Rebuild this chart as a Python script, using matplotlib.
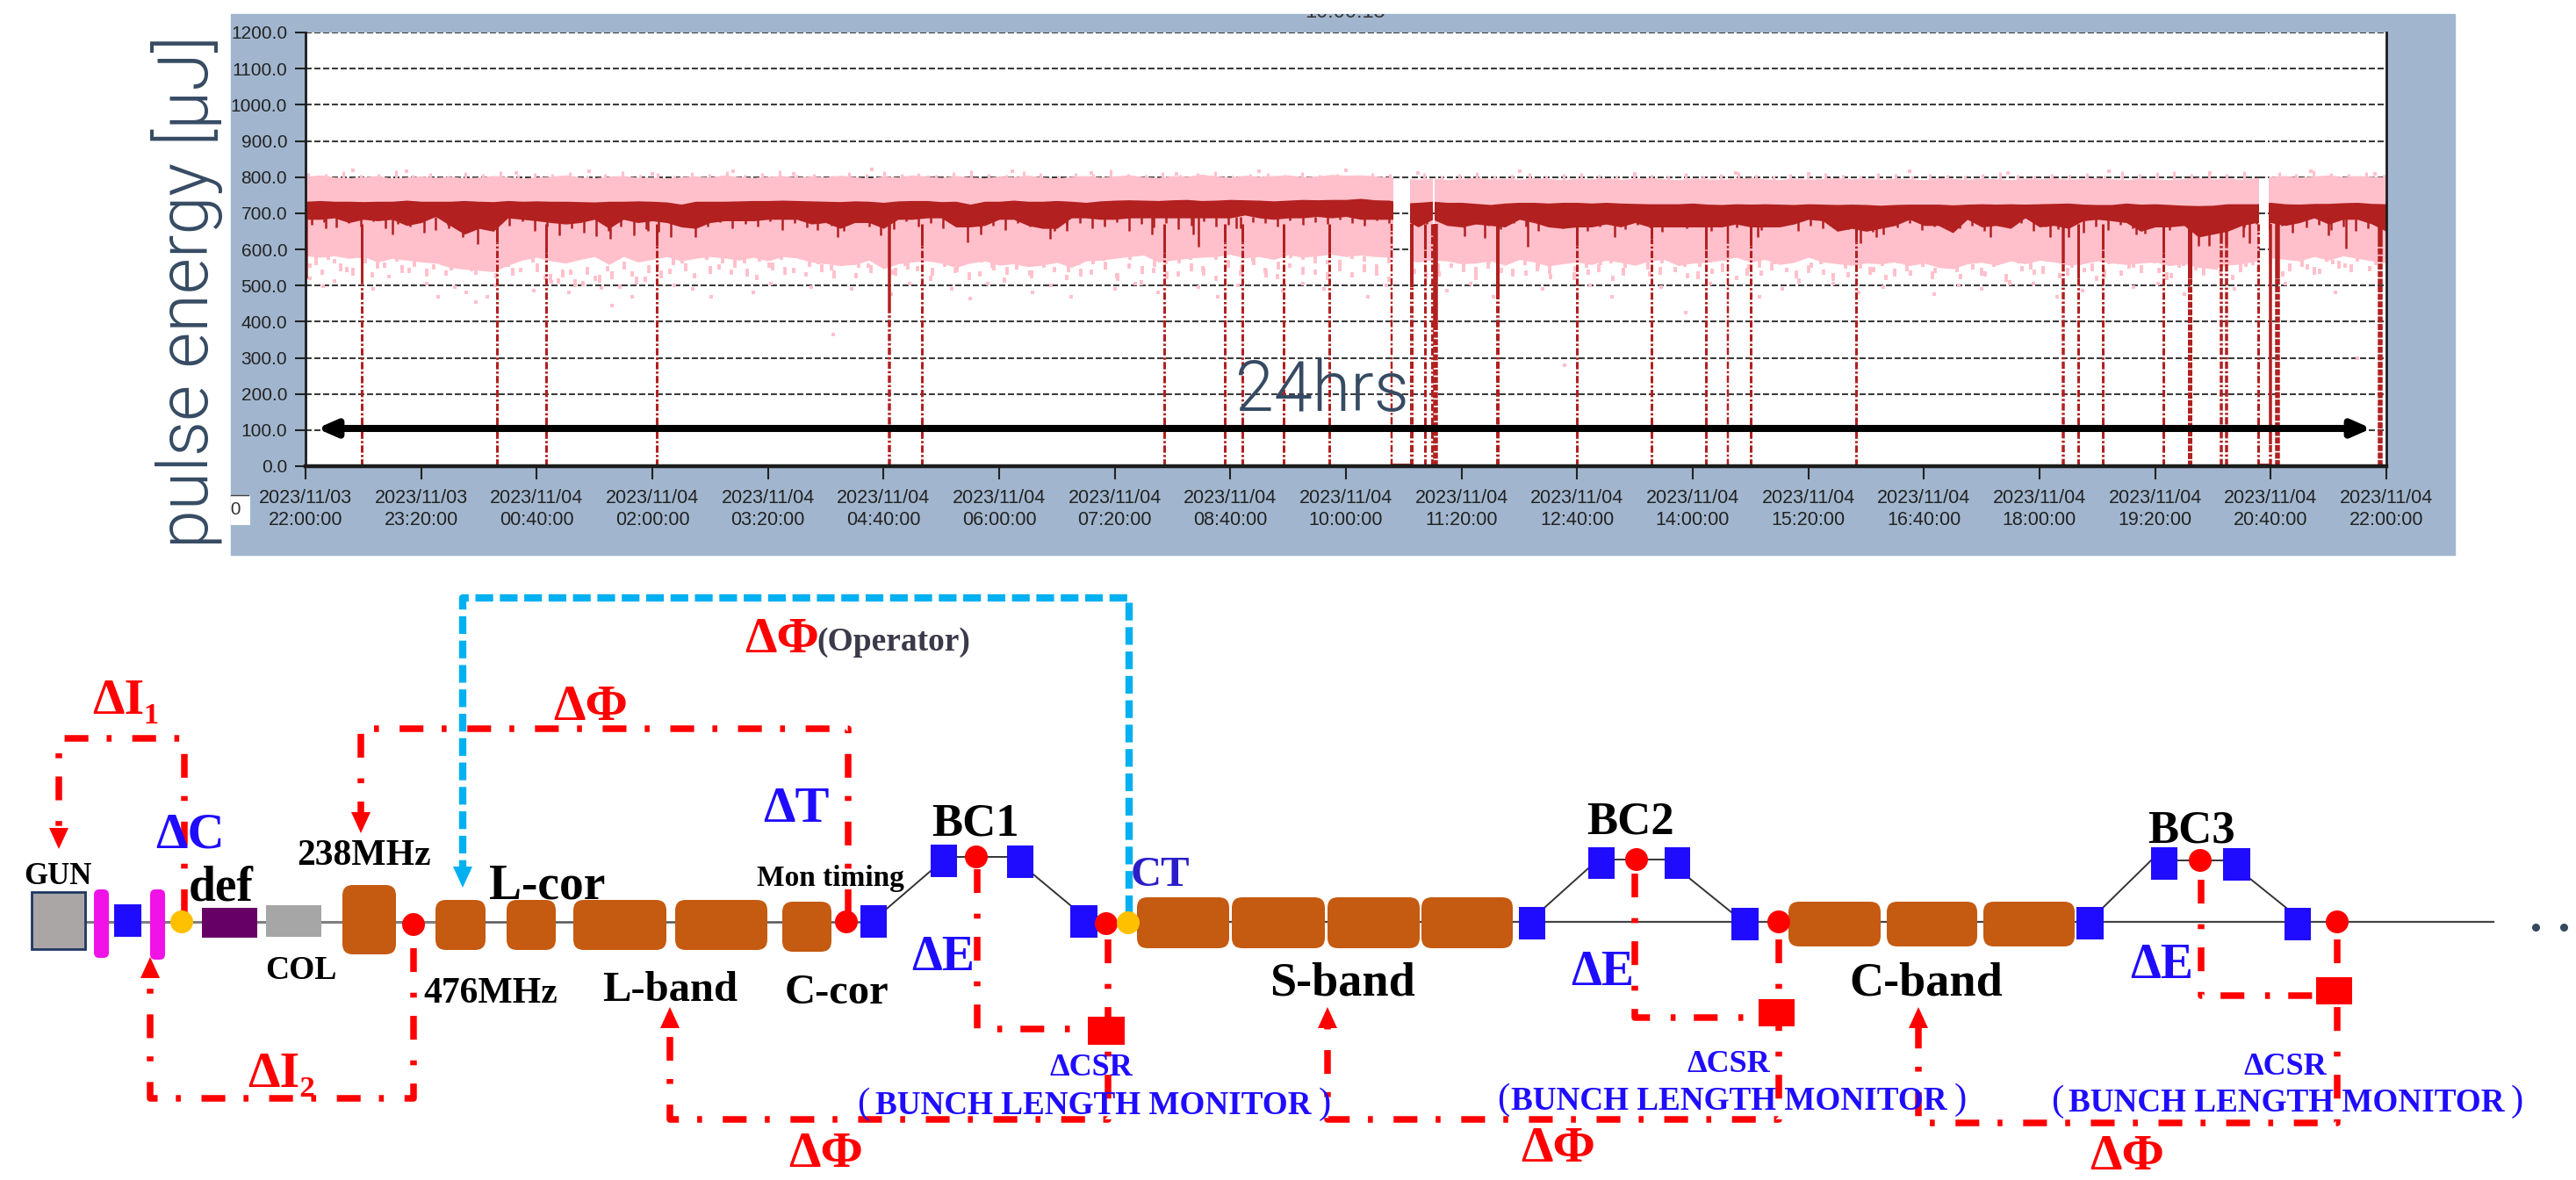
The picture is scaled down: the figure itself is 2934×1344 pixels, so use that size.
"""Pulse energy trend over 24 hours and the accelerator feedback layout."""

import numpy as np
import matplotlib.pyplot as plt
from matplotlib.patches import Rectangle, FancyBboxPatch, Circle, Polygon

plt.rcParams['lines.scale_dashes'] = False

W, H = 2934, 1344

# trend values, one per 10 minutes from 22:00, in uJ
dark_top = [733, 735, 733, 733, 732, 733, 733, 736, 733, 733,
            733, 735, 733, 732, 735, 733, 734, 733, 733, 732,
            731, 733, 733, 734, 733, 731, 725, 733, 733, 733,
            734, 735, 735, 736, 735, 734,
            733, 732, 734, 733, 730, 734, 735, 735, 732, 733,
            725, 733, 733, 736, 733, 733, 735, 733, 730, 734,
            736, 737, 736, 735, 737, 738, 735, 736, 738, 737,
            736, 734, 736, 738, 737, 738, 738,
            741, 737, 736, 728, 730, 733, 730, 730, 727, 724,
            728, 730, 730, 728, 730, 730, 728, 730, 728, 727,
            726, 726, 726, 728, 725, 724, 726, 725, 726, 725,
            724, 726, 725, 724, 725, 724,
            722, 724, 725, 725, 725, 723, 725, 726, 725, 726,
            725, 726, 727, 728, 725, 724, 724, 728, 725, 726,
            724, 722, 721, 722, 726, 726, 726, 730, 726, 725,
            727, 727, 729, 730, 727, 726]
dark_low = [683, 683, 687, 674, 683, 679, 683, 666, 674, 691,
            666, 642, 658, 650, 687, 683, 679, 674, 670, 674,
            683, 658, 683, 674, 679, 674, 662, 658, 674, 679,
            679, 679, 683, 683, 683, 670,
            674, 658, 674, 674, 658, 683, 683, 687, 687, 662,
            662, 666, 683, 683, 666, 658, 658, 687, 687, 683,
            683, 687, 687, 687, 687, 687, 687, 687, 687, 695,
            687, 683, 687, 687, 691, 687, 691,
            683, 683, 683, 683, 662, 683, 666, 662, 670, 666,
            662, 683, 674, 662, 658, 662, 662, 670, 662, 674,
            662, 662, 662, 662, 662, 662, 670, 662, 662, 662,
            670, 683, 679, 650, 658, 650,
            658, 666, 683, 666, 666, 646, 683, 662, 666, 658,
            687, 662, 666, 658, 679, 683, 679, 674, 650, 662,
            662, 666, 634, 642, 650, 666, 674, 674, 666, 674,
            687, 670, 683, 683, 670, 650]
pink_top = [802, 806, 800, 798, 801, 804, 797, 800, 803, 799,
            802, 798, 800, 804, 801, 797, 800, 802, 806, 800,
            798, 802, 804, 799, 800, 797, 801, 803, 800, 806,
            801, 799, 802, 804, 800, 803,
            800, 805, 801, 797, 803, 800, 806, 802, 799, 804,
            800, 798, 803, 801, 805, 800, 797, 802, 804, 800,
            803, 806, 801, 799, 804, 802, 808, 803, 800, 805,
            802, 804, 806, 801, 803, 807, 805,
            806, 803, 800, 797, 794, 797, 793, 796, 799, 795,
            797, 794, 798, 796, 793, 797, 795, 798, 794, 796,
            799, 795, 793, 797, 795, 794, 797, 799, 795, 793,
            797, 794, 796, 798, 795, 797,
            794, 797, 795, 793, 798, 796, 794, 797, 795, 793,
            797, 795, 798, 794, 796, 799, 795, 793, 797, 795,
            793, 796, 799, 795, 797, 794, 798, 802, 804, 800,
            803, 806, 801, 804, 802, 800]
pink_low = [582, 578, 582, 575, 580, 565, 575, 570, 565, 562,
            550, 545, 542, 538, 556, 570, 578, 568, 562, 572,
            580, 558, 580, 565, 572, 580, 568, 575, 580, 576,
            570, 578, 568, 580, 576, 565,
            560, 555, 558, 570, 546, 560, 565, 568, 562, 550,
            562, 568, 556, 560, 552, 556, 564, 550, 568, 570,
            575, 580, 584, 565, 570, 575, 578, 580, 586, 576,
            580, 572, 585, 578, 582, 586, 580,
            584, 580, 578, 570, 565, 570, 568, 560, 562, 568,
            556, 572, 565, 554, 560, 565, 558, 570, 564, 556,
            568, 572, 555, 562, 564, 570, 578, 565, 572, 558,
            564, 578, 565, 560, 556, 562,
            560, 565, 555, 562, 550, 546, 560, 564, 556, 568,
            560, 570, 565, 556, 560, 568, 562, 558, 562, 565,
            555, 560, 550, 546, 556, 560, 568, 576, 572, 568,
            580, 570, 582, 575, 568, 562]

# short dips along the lower edge of the dark trace, equally spaced
dark_fringe = [668, 676, 660, 672, 664, 678, 658, 670, 662, 676, 654, 668,
               672, 660, 674, 656, 666, 678, 650, 664, 640, 658, 646, 636,
               652, 662, 640, 656, 648, 634, 668, 674, 662, 676, 658, 670,
               664, 678, 654, 672, 660, 674, 666, 650, 676, 662, 668, 656,
               678, 664, 672, 658, 670, 676, 660, 666, 654, 674, 662, 678,
               650, 668, 672, 658, 664, 676, 652, 670, 660, 674, 656, 666,
               678, 662, 668, 658, 676, 672, 664, 680, 668, 676, 670, 682,
               674, 666, 680, 672, 664, 678, 670, 682, 668, 660, 676, 666,
               656, 672, 662, 652, 668, 658, 674, 650, 664, 672, 656, 668,
               660, 648, 670, 658, 664, 652, 672, 660, 668, 654, 662, 672,
               650, 666, 658, 670, 656, 664, 648, 668, 660, 672, 654, 662,
               670, 658, 666, 652, 668, 660, 674, 650, 664, 656, 668, 646,
               662, 654, 668, 658, 644, 662, 654, 668, 650, 664, 658, 672,
               660, 670, 656, 666, 674, 660, 668, 654, 664, 650, 658, 646]

# deep single-shot dips of the dark trace (minute, lowest value)
dip_minutes = [14, 60, 82, 99, 109, 119, 211, 237, 270, 354, 368, 398, 458,
               467, 515, 527, 586, 614, 618, 644, 802, 816, 846, 906, 1005,
               1076, 1087, 1092, 1166, 1207, 1220, 1267, 1310, 1317, 1341,
               1345, 1375, 1400, 1412]
dip_values = [658, 642, 646, 658, 634, 614, 630, 650, 634, 654, 634, 638, 619,
              642, 630, 650, 642, 642, 607, 658, 636, 632, 607, 634, 634,
              616, 634, 642, 634, 634, 634, 642, 610, 610, 634,
              616, 646, 638, 603]

# beam dropouts: minute, value the trace stays solid down to, line width in px
drop_minutes = [39, 132.5, 166.5, 243, 404, 426.5, 594, 636, 648, 677, 708.5,
                751.6, 765.6, 774.7, 779.6, 781.7, 825, 880, 931.5, 969, 984,
                1000, 1073, 1216.4, 1226.5, 1243.7, 1285.7, 1303.6, 1325.8,
                1329.5, 1351.4, 1359.5, 1364.8, 1435.8]
drop_solid = [505, 620, 590, 610, 440, 610, 590, 620, 620, 590, 590,
              650, 495, 600, 640, 390, 480, 610, 630, 600, 620,
              610, 620, 560, 520, 600, 590, 520, 620,
              610, 650, 60, 520, 610]
drop_width = [3, 3, 3, 3, 3.5, 3, 3, 3, 3, 3, 3,
              2.5, 4, 3, 3, 5.5, 4, 3, 3, 3, 2.5,
              3, 3, 3.5, 3, 3, 3, 5, 3.5,
              3.5, 3, 3.5, 5.5, 5.5]

gaps = [(752.8, 764.4), (780.4, 781.2), (1352, 1358.6)]

# pink fringe below the solid band, equally spaced through the day
fringe_values = [548, 530, 560, 538, 575, 522, 550, 566, 534, 572, 545, 528,
                 558, 540, 570, 520, 552, 536, 564, 515, 505, 530, 498, 512,
                 540, 490, 525, 510, 548, 532, 560, 520, 570, 545, 530, 562,
                 516, 550, 572, 535, 524, 558, 542, 566, 520, 548, 575, 530,
                 555, 540, 512, 562, 535, 570, 525, 550, 508, 545, 528, 560,
                 538, 515, 556, 530, 568, 520, 546, 500, 535, 558, 525, 570,
                 540, 512, 552, 528, 565, 535, 518, 548, 572, 530, 558, 540,
                 522, 566, 545, 510, 555, 532, 570, 525, 548, 538, 515, 562,
                 535, 572, 528, 550, 518, 565, 540, 530, 556, 512, 548, 575,
                 525, 560, 538, 520, 552, 532, 568, 514, 545, 528, 558, 536,
                 505, 550, 530, 566, 522, 546, 538, 515, 560, 528, 552, 534,
                 570, 518, 545, 525, 556, 500, 540, 530, 565, 520, 550, 536,
                 512, 558, 528, 548, 572, 535, 520, 555, 542, 566, 530, 515,
                 552, 538, 560, 525, 570, 545, 532, 558, 548, 566, 540, 575]
fringe_specks = [556, 572, 540, 528, 562, 546, 580, 535, 552, 524, 568, 542,
                 576, 530, 548, 560, 526, 570, 538, 510, 522, 495, 530, 508,
                 518, 545, 502, 535, 520, 556, 540, 575, 532, 560, 548, 524,
                 566, 542, 530, 578, 552, 536, 520, 572, 548, 534, 560, 526,
                 544, 570, 528, 552, 538, 514, 564, 542, 530, 576, 520, 548,
                 566, 536, 524, 558, 544, 512, 572, 532, 552, 518, 562, 540,
                 528, 570, 548, 534, 556, 522, 544, 576, 530, 562, 516, 550,
                 574, 536, 526, 560, 544, 570, 520, 538, 566, 552, 530, 546,
                 572, 524, 556, 540, 532, 568, 514, 548, 536, 562, 526, 580,
                 544, 530, 570, 552, 518, 564, 538, 576, 528, 550, 542, 566,
                 520, 534, 558, 512, 546, 572, 530, 554, 524, 540, 566, 518,
                 548, 536, 574, 526, 552, 510, 562, 544, 532, 576, 528, 556,
                 540, 522, 568, 546, 534, 560, 516, 550, 578, 528, 544, 570,
                 536, 556, 524, 572, 540, 552, 530, 566, 546, 536, 574, 556]
top_fringe = [812, 808, 815, 806, 810, 818, 807, 811, 804, 813, 809, 816,
              806, 812, 808, 814, 805, 810, 817, 807, 811, 804, 813, 808,
              815, 806, 812, 819, 807, 810, 805, 814, 809, 816, 808, 811,
              806, 813, 818, 809, 807, 815, 811, 805, 812, 808, 820, 810,
              806, 813, 807, 811, 816, 805, 809, 812, 807, 814, 806, 810,
              804, 812, 808, 806, 811, 803, 809, 813, 805, 807, 811, 804,
              808, 812, 806, 803, 810, 807, 805, 811, 804, 808, 813, 806,
              803, 809, 805, 811, 807, 804, 812, 808, 805, 810, 806, 803,
              809, 813, 806, 804, 810, 807, 812, 805, 815, 809, 813, 817,
              810, 814, 808, 816, 811, 813, 809, 818, 812, 810, 814, 807]

speck_minutes = [3, 12, 20, 33, 47, 58, 70, 84, 92, 103, 111, 118, 126, 131,
                 146, 158, 170, 182, 196, 205, 212, 226, 240, 255, 268, 281,
                 296, 310, 322, 338, 350, 365, 378, 392, 405, 418, 431, 447,
                 460, 472, 489, 503, 516, 530, 544, 560, 574, 590, 603, 618,
                 631, 645, 660, 676, 690, 705, 720, 735, 748, 770, 790, 806,
                 822, 840, 856, 871, 889, 904, 920, 938, 955, 972, 990, 1006,
                 1022, 1040, 1057, 1075, 1092, 1110, 1127, 1144, 1160, 1178,
                 1196, 1212, 1230, 1248, 1265, 1282, 1300, 1318, 1335, 1370,
                 1388, 1405, 1420, 1432]
speck_values = [520, 498, 512, 818, 490, 525, 815, 505, 470, 495, 480, 455, 470,
                500, 812, 485, 510, 480, 815, 492, 445, 470, 810, 500, 490,
                470, 815, 480, 505, 810, 495, 365, 490, 820, 475, 505, 800,
                490, 465, 505, 815, 480, 500, 470, 812, 490, 505, 480, 810,
                495, 470, 500, 815, 485, 505, 490, 818, 470, 500, 812, 485,
                505, 470, 815, 490, 280, 500, 470, 810, 495, 425, 505, 812,
                470, 490, 810, 505, 480, 495, 815, 475, 500, 490, 812, 505,
                470, 485, 815, 495, 505, 475, 812, 490, 505, 815, 480, 300,
                810]

y_ticks = [0, 100, 200, 300, 400, 500, 600, 700, 800, 900, 1000, 1100, 1200]
x_ticks = [0, 80, 160, 240, 320, 400, 480, 560, 640, 720, 800, 880, 960,
           1040, 1120, 1200, 1280, 1360, 1440]
x_labels = ['2023/11/03\n22:00:00', '2023/11/03\n23:20:00',
            '2023/11/04\n00:40:00', '2023/11/04\n02:00:00',
            '2023/11/04\n03:20:00', '2023/11/04\n04:40:00',
            '2023/11/04\n06:00:00', '2023/11/04\n07:20:00',
            '2023/11/04\n08:40:00', '2023/11/04\n10:00:00',
            '2023/11/04\n11:20:00', '2023/11/04\n12:40:00',
            '2023/11/04\n14:00:00', '2023/11/04\n15:20:00',
            '2023/11/04\n16:40:00', '2023/11/04\n18:00:00',
            '2023/11/04\n19:20:00', '2023/11/04\n20:40:00',
            '2023/11/04\n22:00:00']

# layout diagram, all in picture pixels: x0, x1, y0, y1
blue_boxes = [(130, 161, 1030, 1067), (980, 1010, 1031, 1068),
              (1060, 1090, 962, 999), (1147, 1177, 963, 1000),
              (1219, 1250, 1031, 1068), (1730, 1760, 1033, 1070),
              (1809, 1839, 965, 1001), (1896, 1925, 965, 1001),
              (1972, 2003, 1034, 1071), (2365, 2396, 1033, 1070),
              (2450, 2480, 965, 1002), (2532, 2563, 966, 1003),
              (2602, 2632, 1034, 1071)]
brown_boxes = [(390, 451, 1008, 1087), (496, 553, 1025, 1082),
               (577, 633, 1025, 1082), (653, 759, 1025, 1082),
               (769, 874, 1025, 1082), (891, 947, 1027, 1084),
               (1295, 1400, 1022, 1080), (1403, 1509, 1022, 1080),
               (1512, 1617, 1022, 1080), (1619, 1723, 1022, 1080),
               (2037, 2142, 1027, 1078), (2149, 2252, 1027, 1078),
               (2259, 2363, 1027, 1078)]
magenta_bars = [(107, 124, 1013, 1091), (171, 188, 1013, 1093)]
red_squares = [(1239, 1281, 1158, 1190), (2003, 2044, 1138, 1169),
               (2638, 2679, 1113, 1144)]
red_dots = [(471, 1053), (964, 1050), (1112, 976), (1260, 1052), (1864, 979),
            (2026, 1050), (2506, 980), (2662, 1050)]
yellow_dots = [(207, 1050), (1285, 1051)]
bend_lines = [[(1010, 1035), (1060, 992)], [(1090, 976), (1147, 976)],
              [(1177, 996), (1219, 1031)], [(1760, 1033), (1809, 989)],
              [(1839, 979), (1896, 979)], [(1925, 1001), (1972, 1039)],
              [(2396, 1033), (2450, 980)], [(2480, 980), (2532, 980)],
              [(2563, 1001), (2604, 1034)]]
red_routes = [[(210, 1040), (210, 841), (67, 841), (67, 950)],
              [(471, 1080), (471, 1251), (171, 1251), (171, 1110)],
              [(966, 1040), (966, 830), (411, 830), (411, 930)],
              [(1262, 1070), (1262, 1275), (763, 1275), (763, 1170)],
              [(1113, 990), (1113, 1172), (1240, 1172)],
              [(2026, 1070), (2026, 1275), (1512, 1275), (1512, 1170)],
              [(1862, 995), (1862, 1159), (2003, 1159)],
              [(2662, 1070), (2662, 1279), (2185, 1279), (2185, 1170)],
              [(2507, 1002), (2507, 1134), (2638, 1134)]]
red_heads = [(67, 967, 1), (171, 1090, -1), (411, 949, 1), (763, 1147, -1),
             (1512, 1147, -1), (2185, 1147, -1)]
blue_route = [(1286, 1040), (1286, 681), (527, 681), (527, 990)]

serif = ['Liberation Serif', 'DejaVu Serif']
RED, BLUE, BLACK = '#ff0000', '#1f0cff', '#000000'
# label, left, baseline, size, colour
labels = [('ΔI₁', 105, 813, 42, RED), ('ΔΦ', 630, 820, 42, RED),
          ('ΔI₂', 282, 1238, 42, RED), ('ΔΦ', 848, 743, 42, RED),
          ('ΔΦ', 898, 1329, 42, RED), ('ΔΦ', 1732, 1323, 42, RED),
          ('ΔΦ', 2380, 1332, 42, RED), ('ΔC', 177, 965, 42, BLUE),
          ('ΔT', 869, 936, 42, BLUE), ('ΔE', 1038, 1105, 40, BLUE),
          ('ΔE', 1789, 1122, 40, BLUE), ('ΔE', 2426, 1114, 40, BLUE),
          ('CT', 1288, 1009, 35, '#2a1ec8'), ('238MHz', 338, 985, 30, BLACK),
          ('GUN', 27, 1007, 25, BLACK), ('def', 215, 1026, 40, BLACK),
          ('COL', 302, 1115, 27, BLACK), ('L-cor', 557, 1023, 40, BLACK),
          ('476MHz', 482, 1142, 30, BLACK), ('L-band', 686, 1140, 35, BLACK),
          ('C-cor', 894, 1143, 35, BLACK), ('Mon timing', 862, 1009, 24, BLACK),
          ('BC1', 1061, 951, 38, BLACK), ('BC2', 1807, 949, 38, BLACK),
          ('BC3', 2446, 960, 38, BLACK), ('S-band', 1446, 1133, 39, BLACK),
          ('C-band', 2106, 1133, 39, BLACK), ('ΔCSR', 1196, 1225, 26, BLUE),
          ('ΔCSR', 1921, 1221, 26, BLUE), ('ΔCSR', 2556, 1224, 26, BLUE),
          ('BUNCH LENGTH MONITOR', 997, 1269, 26.7, BLUE),
          ('BUNCH LENGTH MONITOR', 1721, 1264, 26.7, BLUE),
          ('BUNCH LENGTH MONITOR', 2356, 1266, 26.7, BLUE),
          ('(Operator)', 930, 741, 27, '#3a3a4a')]
# thin brackets round the monitor labels: text, left, baseline
brackets = [('(', 976, 1268), (')', 1502, 1268), ('(', 1705, 1263),
            (')', 2226, 1263), ('(', 2336, 1265), (')', 2860, 1265)]

fig = plt.figure(figsize=(W / 100, H / 100), dpi=100, facecolor='white')
fig.add_artist(Rectangle((263 / W, 1 - 632 / H), (2796 - 263) / W, 616 / H,
                         transform=fig.transFigure, color='#a1b6ce', zorder=-1))

# trend panel
ax = fig.add_axes([348 / W, 1 - 531 / H, (2718 - 348) / W, 494 / H])
minutes = np.arange(len(dark_top)) * 10
grid_style = (0, (5, 2.2))
PINK, DARK = '#ffc0cb', '#b22020'
ax.set_xlim(0, 1440)
ax.set_ylim(0, 1200)
ax.hlines(y_ticks[1:], 0, 1440, color='#3c3c3c', lw=1.5, ls=grid_style,
          zorder=0.5)
ax.fill_between(minutes, pink_low, pink_top, color=PINK, lw=0, zorder=1)
# fringe as short loose streaks, so the lower edge stays speckled
fringe_minutes = np.linspace(3, 1437, len(fringe_values))
ax.vlines(fringe_minutes, fringe_values, np.array(fringe_values) + 14,
          color=PINK, lw=2.8, zorder=1)
specks_at = np.linspace(7, 1433, len(fringe_specks))
ax.vlines(specks_at, fringe_specks, np.array(fringe_specks) + 22, color=PINK,
          lw=2.8, zorder=1)
ax.vlines(np.linspace(2, 1438, len(top_fringe)), 790, top_fringe, color=PINK,
          lw=2.2, zorder=1)
ax.plot(speck_minutes, speck_values, ls='', marker='s', ms=2.2, color=PINK,
        mew=0, zorder=1)
ax.fill_between(minutes, dark_low, dark_top, color=DARK, lw=0, zorder=1.2)
ax.vlines(np.linspace(4, 1436, len(dark_fringe)), dark_fringe, 690, color=DARK,
          lw=1.8, zorder=1.2)
ax.vlines(dip_minutes, dip_values, 690, color=DARK, lw=1.8, zorder=1.2)
ax.vlines(0.5, 520, 700, color=DARK, lw=1.8, zorder=1.2)
for g0, g1 in gaps:
    ax.axvspan(g0, g1, color='white', lw=0, zorder=1.4)
    ax.hlines(y_ticks[1:], g0, g1, color='#3c3c3c', lw=1.5, ls=grid_style,
              zorder=1.5)
for m, solid, width in zip(drop_minutes, drop_solid, drop_width):
    ax.vlines(m, solid, 670, color=DARK, lw=width * 0.72, zorder=1.6)
    ax.vlines(m, 0, solid, color=DARK, lw=width * 0.72,
              ls=(0, (6, 1.8, 1.8, 1.8)) if width < 5 else (0, (5, 1.2)),
              zorder=1.6)
ax.hlines(4, 751.6, 765.6, color=DARK, lw=2, zorder=1.6)
ax.hlines(4, 1351.4, 1359.5, color=DARK, lw=2, zorder=1.6)

ax.spines['top'].set_visible(False)
for side, lw in [('left', 2), ('right', 2), ('bottom', 3.2)]:
    ax.spines[side].set_linewidth(lw)
    ax.spines[side].set_color('#1c1c1c')
    ax.spines[side].set_zorder(3)
tick_font = 'Liberation Sans'
ax.set_yticks(y_ticks, [f'{v:.1f}' for v in y_ticks], family=tick_font,
              fontsize=15, color='#222222')
ax.set_xticks(x_ticks, x_labels, family=tick_font, fontsize=15.5, color='#222222',
              linespacing=1.25)
ax.tick_params(axis='y', length=9, width=1.5, pad=6, color='#222222')
ax.tick_params(axis='x', length=11, width=1.5, pad=8, color='#222222')

# overlay in picture pixels for the arrow, the notes and the layout diagram
ov = fig.add_axes([0, 0, 1, 1], zorder=5, facecolor='none')
ov.set_xlim(0, W)
ov.set_ylim(H, 0)
ov.axis('off')

ov.add_patch(Rectangle((263, 564), 22, 34, color='white', lw=0))
ov.plot([263, 283], [564, 564], color='#444444', lw=1)
corner = ov.text(263, 581, '00', family=tick_font, fontsize=15, color='#333333',
                 va='center', ha='center')
corner.set_clip_path(Rectangle((263, 560), 22, 40, transform=ov.transData))
corner.set_clip_on(True)
top_note = ov.text(1532, 14, '10:00:15', family=tick_font, fontsize=17,
                   color='#333333', ha='center', va='center')
top_note.set_clip_path(Rectangle((1470, 16), 130, 10, transform=ov.transData))
top_note.set_clip_on(True)

ov.annotate('', xy=(361, 488), xytext=(2701, 488),
            arrowprops=dict(arrowstyle='<|-|>,head_length=1.25,head_width=0.55',
                            color='black', lw=5.8, shrinkA=0, shrinkB=0))
ov.text(1407, 468, '24hrs', family=['Roboto', 'DejaVu Sans'], fontweight=300,
        fontsize=57, color='#364b63', va='baseline')
ov.text(254, 332, 'pulse energy [μJ]', family=['Roboto', 'DejaVu Sans'],
        fontweight=300, fontsize=57, color='#364b63', rotation=90, ha='right',
        va='center')

ov.plot([97, 390], [1050, 1050], color='#7f7f7f', lw=2.2, zorder=1)
ov.plot([451, 496], [1050, 1050], color='#7f7f7f', lw=2.2, zorder=1)
ov.plot([553, 980], [1050, 1050], color='#555555', lw=1.8, zorder=1)
ov.plot([1250, 2840], [1050, 1050], color='#444444', lw=1.6, zorder=1)
for seg in bend_lines:
    ov.plot(*zip(*seg), color='#333333', lw=1.4, zorder=1)

ov.add_patch(Rectangle((36, 1016), 61, 65, facecolor='#aba6a6',
                       edgecolor='#1f3864', lw=2, zorder=2))
for x0, x1, y0, y1 in magenta_bars:
    ov.add_patch(FancyBboxPatch((x0 + 4, y0 + 4), x1 - x0 - 8, y1 - y0 - 8,
                                boxstyle='round,pad=4,rounding_size=6',
                                fc='#f012e6', lw=0, zorder=2))
ov.add_patch(Rectangle((230, 1034), 63, 34, color='#660066', lw=0, zorder=2))
ov.add_patch(Rectangle((303, 1031), 63, 36, color='#a6a6a6', lw=0, zorder=2))
for x0, x1, y0, y1 in brown_boxes:
    ov.add_patch(FancyBboxPatch((x0 + 10, y0 + 10), x1 - x0 - 20, y1 - y0 - 20,
                                boxstyle='round,pad=10,rounding_size=12',
                                fc='#c55a11', lw=0, zorder=2))
for x0, x1, y0, y1 in blue_boxes:
    ov.add_patch(Rectangle((x0, y0), x1 - x0, y1 - y0, color=BLUE, lw=0, zorder=2))

red_dash = (0, (19.5, 17, 4, 15))
for route in red_routes:
    ov.plot(*zip(*route), color=RED, lw=5.4, ls=red_dash, zorder=3,
            dash_capstyle='butt', solid_joinstyle='miter')
for x, tip, sign in red_heads:
    ov.add_patch(Polygon([(x, tip), (x - 11, tip - sign * 24),
                          (x + 11, tip - sign * 24)], color=RED, lw=0, zorder=3))
ov.plot(*zip(*blue_route), color='#00b0f0', lw=6, ls=(0, (14.5, 5.5)), zorder=3)
ov.add_patch(Polygon([(527, 1011), (516, 987), (538, 987)], color='#00b0f0',
                     lw=0, zorder=3))

for x0, x1, y0, y1 in red_squares:
    ov.add_patch(Rectangle((x0, y0), x1 - x0, y1 - y0, color=RED, lw=0, zorder=4))
for x, y in red_dots:
    ov.add_patch(Circle((x, y), 13, color=RED, lw=0, zorder=4))
for x, y in yellow_dots:
    ov.add_patch(Circle((x, y), 13, color='#ffc000', lw=0, zorder=4))
ov.plot([2888, 2920], [1056, 1056], ls='', marker='o', ms=6.5, mew=0,
        color='#34495e')

for text, x, y, size, color in labels:
    ov.text(x, y, text, family=serif, fontweight='bold', fontsize=size,
            color=color, va='baseline', zorder=6)
for text, x, y in brackets:
    ov.text(x, y, text, family=serif, fontsize=31, color=BLUE, va='baseline',
            zorder=6)

fig.savefig('out.png', dpi=100)
